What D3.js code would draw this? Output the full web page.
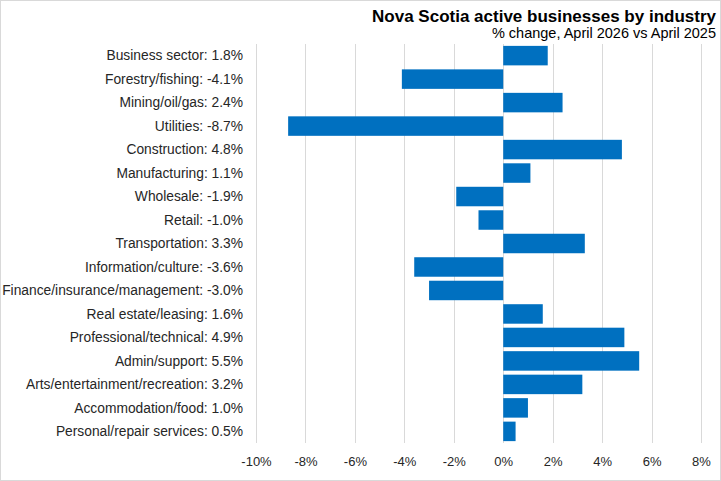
<!DOCTYPE html>
<html>
<head>
<meta charset="utf-8">
<script src="https://cdn.jsdelivr.net/npm/d3@7"></script>
<style>
  body { margin: 0; background: #fff; }
  svg { display: block; font-family: "Liberation Sans", Arial, sans-serif; }
</style>
</head>
<body>
<div id="chart"></div>
<script>
// industries, top to bottom
var industries = [
    "Business sector", "Forestry/fishing", "Mining/oil/gas", "Utilities",
    "Construction", "Manufacturing", "Wholesale", "Retail", "Transportation",
    "Information/culture", "Finance/insurance/management", "Real estate/leasing",
    "Professional/technical", "Admin/support", "Arts/entertainment/recreation",
    "Accommodation/food", "Personal/repair services"
];
// % change, April 2026 vs April 2025
var changes = [1.8, -4.1, 2.4, -8.7, 4.8, 1.1, -1.9, -1.0, 3.3, -3.6, -3.0, 1.6, 4.9, 5.5, 3.2, 1.0, 0.5];
var xTicks = [-10, -8, -6, -4, -2, 0, 2, 4, 6, 8];

var data = industries.map(function(d, i) {
    return { name: d, value: changes[i] };
});

var width = 721, height = 481;
var margin = {top: 44, right: 20, bottom: 38, left: 256};

var svg = d3.select("#chart").append("svg")
    .attr("width", width)
    .attr("height", height);

// outer border
svg.append("rect")
    .attr("x", 0.5).attr("y", 0.5)
    .attr("width", width - 1).attr("height", height - 1)
    .attr("fill", "#fff")
    .attr("stroke", "#d9d9d9");

var x = d3.scaleLinear().domain([-10, 8]).range([margin.left, 701]);
var y = d3.scaleBand()
    .domain(industries)
    .range([margin.top, height - margin.bottom])
    .paddingInner(0.17)
    .paddingOuter(0.08);

// gridlines
svg.append("g")
  .selectAll("line")
  .data(xTicks)
  .join("line")
    .attr("x1", function(d) { return Math.round(x(d)) + 0.5; })
    .attr("x2", function(d) { return Math.round(x(d)) + 0.5; })
    .attr("y1", margin.top)
    .attr("y2", height - margin.bottom)
    .attr("stroke", "#d9d9d9");

// bars
svg.append("g")
  .selectAll("rect")
  .data(data)
  .join("rect")
    .attr("x", function(d) { return x(Math.min(0, d.value)); })
    .attr("y", function(d) { return y(d.name); })
    .attr("width", function(d) { return Math.abs(x(d.value) - x(0)); })
    .attr("height", y.bandwidth())
    .attr("fill", "#0070c0");

// category labels with values
svg.append("g")
  .selectAll("text")
  .data(data)
  .join("text")
    .attr("x", 243)
    .attr("y", function(d) { return y(d.name) + y.bandwidth() / 2; })
    .attr("dy", "0.35em")
    .attr("text-anchor", "end")
    .attr("font-size", 13.8)
    .attr("fill", "#262626")
    .text(function(d) { return d.name + ": " + d.value.toFixed(1) + "%"; });

// x axis
var xAxis = svg.append("g")
    .attr("transform", "translate(0," + (height - margin.bottom) + ")")
    .call(d3.axisBottom(x).tickValues(xTicks).tickSize(0).tickPadding(14)
        .tickFormat(function(d) { return d + "%"; }));
xAxis.select(".domain").remove();
xAxis.selectAll("text")
    .attr("font-size", 13)
    .attr("font-family", "Liberation Sans, Arial, sans-serif")
    .attr("fill", "#262626");

// title
svg.append("text")
    .attr("x", 716).attr("y", 22)
    .attr("text-anchor", "end")
    .attr("font-size", 17)
    .attr("font-weight", "bold")
    .attr("fill", "#000")
    .text("Nova Scotia active businesses by industry");

svg.append("text")
    .attr("x", 716).attr("y", 38)
    .attr("text-anchor", "end")
    .attr("font-size", 14.5)
    .attr("fill", "#000")
    .text("% change, April 2026 vs April 2025");
</script>
</body>
</html>
